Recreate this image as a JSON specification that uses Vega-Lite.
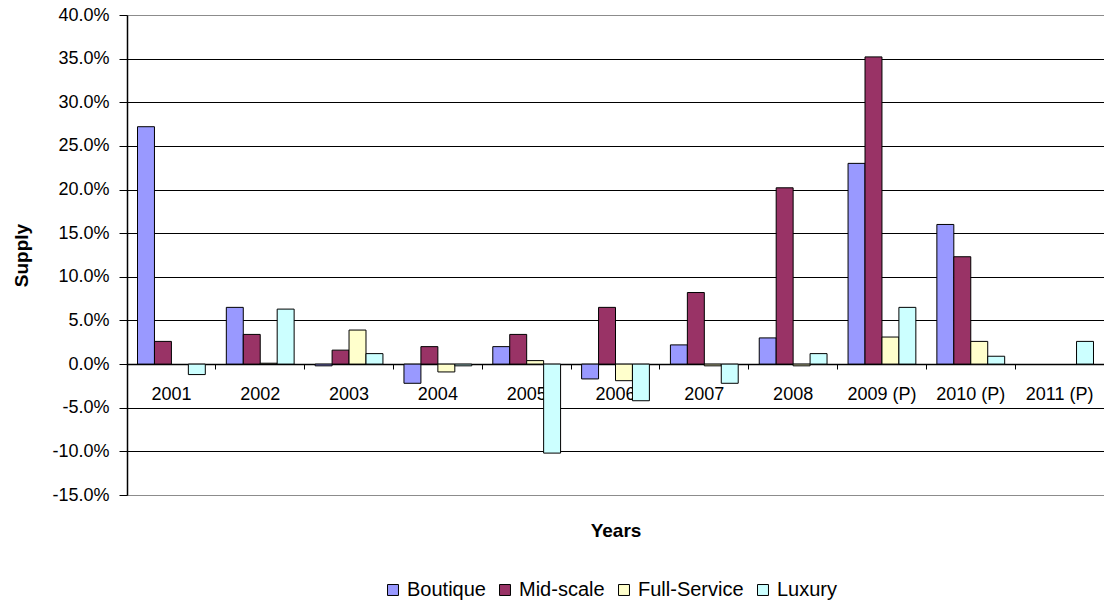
{
  "$schema": "https://vega.github.io/schema/vega-lite/v6.json",
  "autosize": {"type": "none"},
  "padding": {"left": 127, "top": 15, "right": 0, "bottom": 109},
  "width": 977,
  "height": 480,
  "background": "white",
  "config": {
    "font": "Liberation Sans",
    "locale": {"number": {"decimal": ".", "thousands": ",", "grouping": [3], "currency": ["$", ""], "minus": "-"}},
    "view": {"stroke": "#8c8c8c", "strokeWidth": 1},
    "axis": {"labelColor": "black", "titleColor": "black"}
  },
  "data": {
    "values": [
      {"Year": "2001", "Series": "Boutique", "Supply": 0.272},
      {"Year": "2001", "Series": "Mid-scale", "Supply": 0.026},
      {"Year": "2001", "Series": "Luxury", "Supply": -0.012},
      {"Year": "2002", "Series": "Boutique", "Supply": 0.065},
      {"Year": "2002", "Series": "Mid-scale", "Supply": 0.034},
      {"Year": "2002", "Series": "Full-Service", "Supply": 0.001},
      {"Year": "2002", "Series": "Luxury", "Supply": 0.063},
      {"Year": "2003", "Series": "Boutique", "Supply": -0.002},
      {"Year": "2003", "Series": "Mid-scale", "Supply": 0.016},
      {"Year": "2003", "Series": "Full-Service", "Supply": 0.039},
      {"Year": "2003", "Series": "Luxury", "Supply": 0.012},
      {"Year": "2004", "Series": "Boutique", "Supply": -0.022},
      {"Year": "2004", "Series": "Mid-scale", "Supply": 0.020},
      {"Year": "2004", "Series": "Full-Service", "Supply": -0.009},
      {"Year": "2004", "Series": "Luxury", "Supply": -0.002},
      {"Year": "2005", "Series": "Boutique", "Supply": 0.020},
      {"Year": "2005", "Series": "Mid-scale", "Supply": 0.034},
      {"Year": "2005", "Series": "Full-Service", "Supply": 0.004},
      {"Year": "2005", "Series": "Luxury", "Supply": -0.102},
      {"Year": "2006", "Series": "Boutique", "Supply": -0.017},
      {"Year": "2006", "Series": "Mid-scale", "Supply": 0.065},
      {"Year": "2006", "Series": "Full-Service", "Supply": -0.019},
      {"Year": "2006", "Series": "Luxury", "Supply": -0.042},
      {"Year": "2007", "Series": "Boutique", "Supply": 0.022},
      {"Year": "2007", "Series": "Mid-scale", "Supply": 0.082},
      {"Year": "2007", "Series": "Full-Service", "Supply": -0.002},
      {"Year": "2007", "Series": "Luxury", "Supply": -0.022},
      {"Year": "2008", "Series": "Boutique", "Supply": 0.030},
      {"Year": "2008", "Series": "Mid-scale", "Supply": 0.202},
      {"Year": "2008", "Series": "Full-Service", "Supply": -0.002},
      {"Year": "2008", "Series": "Luxury", "Supply": 0.012},
      {"Year": "2009 (P)", "Series": "Boutique", "Supply": 0.230},
      {"Year": "2009 (P)", "Series": "Mid-scale", "Supply": 0.352},
      {"Year": "2009 (P)", "Series": "Full-Service", "Supply": 0.031},
      {"Year": "2009 (P)", "Series": "Luxury", "Supply": 0.065},
      {"Year": "2010 (P)", "Series": "Boutique", "Supply": 0.160},
      {"Year": "2010 (P)", "Series": "Mid-scale", "Supply": 0.123},
      {"Year": "2010 (P)", "Series": "Full-Service", "Supply": 0.026},
      {"Year": "2010 (P)", "Series": "Luxury", "Supply": 0.009},
      {"Year": "2011 (P)", "Series": "Luxury", "Supply": 0.026}
    ]
  },
  "layer": [
    {
      "mark": {"type": "bar", "stroke": "black", "strokeWidth": 1},
      "encoding": {
        "x": {
          "field": "Year", "type": "nominal",
          "sort": ["2001","2002","2003","2004","2005","2006","2007","2008","2009 (P)","2010 (P)","2011 (P)"],
          "scale": {"domain": ["2001","2002","2003","2004","2005","2006","2007","2008","2009 (P)","2010 (P)","2011 (P)"], "paddingInner": 0, "paddingOuter": 0},
          "axis": {"orient": "bottom", "offset": -131, "title": null, "ticks": false, "tickSize": 0, "domain": false, "grid": false, "labelAngle": 0, "labelPadding": 21, "labelFontSize": 18, "labelBaseline": "top"}
        },
        "xOffset": {
          "field": "Series", "type": "nominal",
          "scale": {"domain": ["Boutique", "Mid-scale", "Full-Service", "Luxury"], "paddingInner": 0, "paddingOuter": 0.62}
        },
        "y": {
          "field": "Supply", "type": "quantitative",
          "scale": {"domain": [-0.15, 0.4], "nice": false, "zero": false},
          "axis": {
            "title": "Supply", "format": ".1%",
            "values": [-0.15, -0.1, -0.05, 0, 0.05, 0.1, 0.15, 0.2, 0.25, 0.3, 0.35, 0.4],
            "labelFontSize": 18, "labelPadding": 10, "tickSize": 8, "tickColor": "black",
            "domainColor": "black", "domainWidth": 1.5,
            "gridColor": {"condition": {"test": "datum.value <= -0.149 || datum.value >= 0.399", "value": "#8c8c8c"}, "value": "black"},
            "gridWidth": 1, "gridOpacity": 1,
            "titleFontSize": 19, "titleFontWeight": "bold", "titlePadding": 20
          }
        },
        "color": {
          "field": "Series", "type": "nominal",
          "scale": {"domain": ["Boutique", "Mid-scale", "Full-Service", "Luxury"], "range": ["#9999FF", "#993366", "#FFFFCC", "#CCFFFF"]},
          "legend": {
            "title": null, "orient": "none", "legendX": 256, "legendY": 565, "direction": "horizontal",
            "symbolType": "square", "symbolSize": 120, "symbolStrokeColor": "black", "symbolStrokeWidth": 1, "symbolOpacity": 1,
            "labelFontSize": 20, "labelColor": "black", "labelOffset": 4, "columnPadding": 9
          }
        }
      }
    },
    {
      "mark": {"type": "tick", "opacity": 0},
      "encoding": {
        "x": {
          "field": "Year", "type": "nominal",
          "sort": ["2001","2002","2003","2004","2005","2006","2007","2008","2009 (P)","2010 (P)","2011 (P)"],
          "axis": {"orient": "bottom", "offset": -131, "title": null, "labels": false, "ticks": true, "tickSize": 5, "tickColor": "black", "bandPosition": 0, "domain": true, "domainColor": "black", "domainWidth": 1.5, "grid": false}
        }
      }
    },
    {
      "mark": {"type": "tick", "opacity": 0},
      "encoding": {
        "x": {
          "field": "Year", "type": "nominal",
          "sort": ["2001","2002","2003","2004","2005","2006","2007","2008","2009 (P)","2010 (P)","2011 (P)"],
          "axis": {"orient": "bottom", "offset": 0, "title": "Years", "titleFontSize": 19, "titleFontWeight": "bold", "titlePadding": 26, "labels": false, "ticks": false, "domain": false, "grid": false}
        }
      }
    }
  ],
  "resolve": {"axis": {"x": "independent"}}
}
